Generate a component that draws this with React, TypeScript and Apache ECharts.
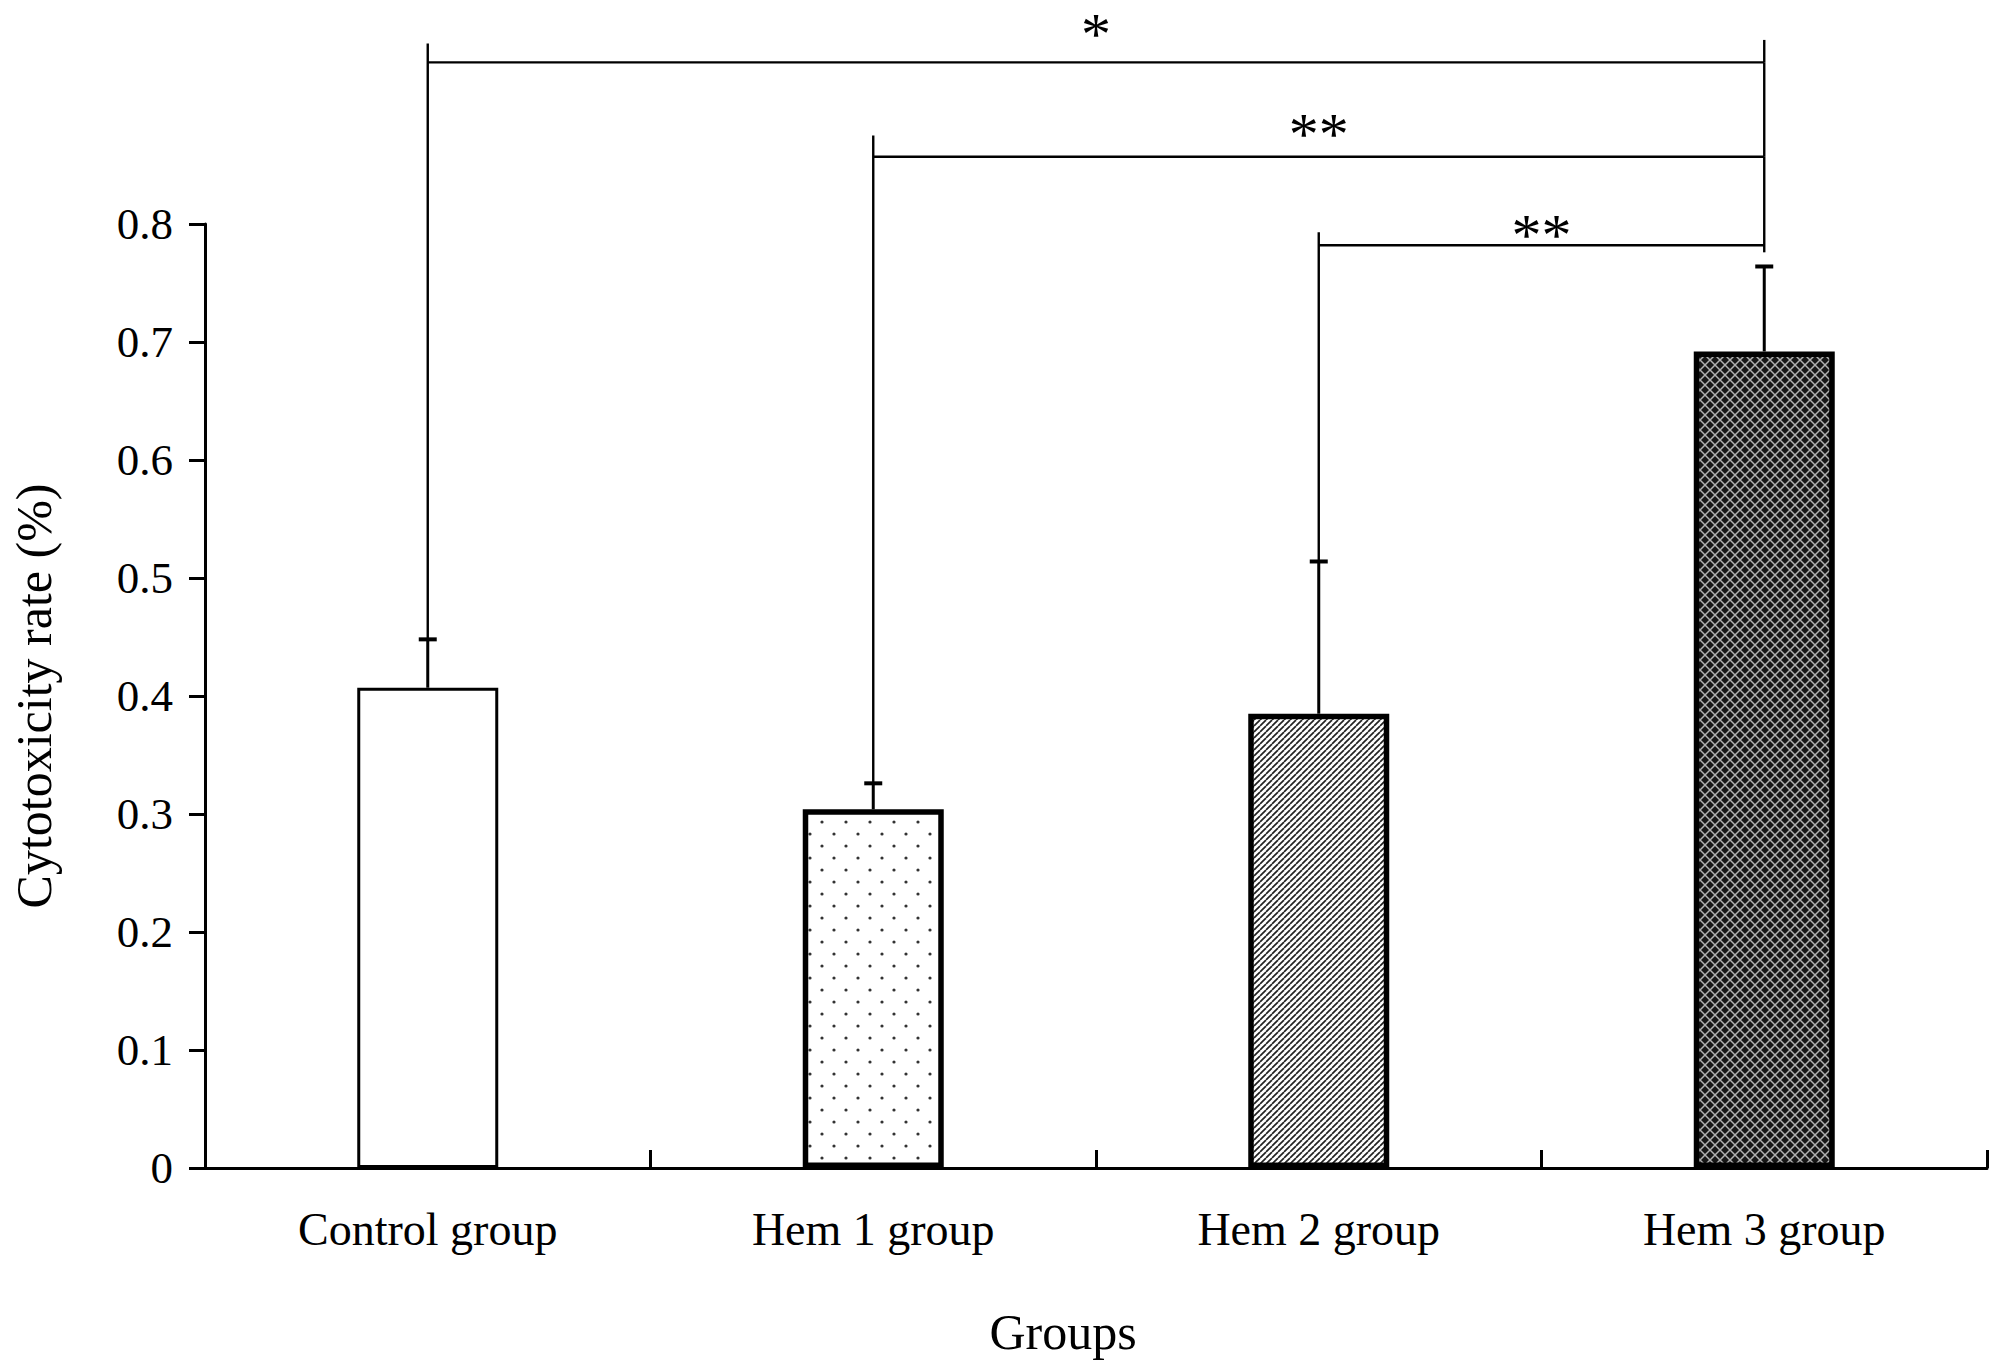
import React, { useEffect, useRef } from "react";
import * as echarts from "echarts";

// ---------- data ----------
const categories = ["Control group", "Hem 1 group", "Hem 2 group", "Hem 3 group"];
const rates = [0.407, 0.304, 0.385, 0.692];
const errorTops = [0.448, 0.326, 0.514, 0.764];
const yMin = 0;
const yMax = 0.8;
const yStep = 0.1;

// significance brackets (category indices and heights in data units)
const bracketFrom = [0, 1, 2];
const bracketTo = [3, 3, 3];
const bracketLevels = [0.937, 0.857, 0.782];
const bracketLeftTops = [0.953, 0.875, 0.793];
const bracketRightTops = [0.956, 0.937, 0.857];
const bracketRightBottoms = [0.937, 0.857, 0.776];
const bracketMarks = ["*", "**", "**"];
const bracketMarkLevels = [0.961, 0.876, 0.791];

const FONT = "'Liberation Serif', 'Times New Roman', serif";

type Kind = "none" | "dots" | "hatch" | "cross";
const barKinds: Kind[] = ["none", "dots", "hatch", "cross"];
const barBorderWidths = [3, 5.5, 5.5, 5.5];

function makePattern(kind: Kind): any {
  if (kind === "none") return "#ffffff";
  const c = document.createElement("canvas");
  let w = 10;
  let h = 10;
  if (kind === "dots") {
    w = 24;
    h = 24;
  } else if (kind === "hatch") {
    w = 6;
    h = 6;
  } else {
    w = 10;
    h = 10;
  }
  c.width = w;
  c.height = h;
  const ctx = c.getContext("2d")!;
  if (kind === "dots") {
    ctx.fillStyle = "#ffffff";
    ctx.fillRect(0, 0, w, h);
    ctx.fillStyle = "#333333";
    [[6, 6], [18, 18]].forEach(([x, y]) => {
      ctx.beginPath();
      ctx.arc(x, y, 1.6, 0, Math.PI * 2);
      ctx.fill();
    });
  } else if (kind === "hatch") {
    ctx.fillStyle = "#ffffff";
    ctx.fillRect(0, 0, w, h);
    ctx.strokeStyle = "#222222";
    ctx.lineWidth = 1.7;
    for (const off of [-w, 0, w]) {
      ctx.beginPath();
      ctx.moveTo(off, h);
      ctx.lineTo(off + w, 0);
      ctx.stroke();
    }
  } else {
    ctx.fillStyle = "#161616";
    ctx.fillRect(0, 0, w, h);
    ctx.strokeStyle = "#b0b0b0";
    ctx.lineWidth = 1.5;
    for (const off of [-w, 0, w]) {
      ctx.beginPath();
      ctx.moveTo(off, h);
      ctx.lineTo(off + w, 0);
      ctx.stroke();
      ctx.beginPath();
      ctx.moveTo(off, 0);
      ctx.lineTo(off + w, h);
      ctx.stroke();
    }
  }
  return { image: c, repeat: "repeat", imageWidth: w, imageHeight: h };
}

export default function App() {
  const ref = useRef<HTMLDivElement>(null);

  useEffect(() => {
    document.body.style.margin = "0";
    if (!ref.current) return;
    const chart = echarts.init(ref.current, undefined, { renderer: "svg" });

    const barData = rates.map((v, i) => ({
      value: v,
      itemStyle: {
        color: makePattern(barKinds[i]),
        borderColor: "#000",
        borderWidth: barBorderWidths[i],
      },
    }));

    const errData = rates.map((v, i) => [i, errorTops[i], v]);
    const bracketData = bracketFrom.map((f, i) => [
      f,
      bracketTo[i],
      bracketLevels[i],
      bracketLeftTops[i],
      bracketRightTops[i],
      bracketRightBottoms[i],
      bracketMarkLevels[i],
    ]);

    const option: any = {
      animation: false,
      backgroundColor: "#ffffff",
      grid: { left: 205, right: 21, top: 224, bottom: 203, containLabel: false },
      xAxis: {
        type: "category",
        data: categories,
        name: "Groups",
        nameLocation: "middle",
        nameGap: 139,
        nameTextStyle: {
          fontFamily: FONT,
          fontSize: 50,
          color: "#000",
          padding: [0, 66, 0, 0],
        },
        axisLine: { show: true, lineStyle: { color: "#000", width: 3 } },
        axisTick: { show: true, inside: true, length: 18, lineStyle: { color: "#000", width: 3 } },
        axisLabel: { fontFamily: FONT, fontSize: 46, color: "#000", margin: 38 },
        splitLine: { show: false },
      },
      yAxis: {
        type: "value",
        min: yMin,
        max: yMax,
        interval: yStep,
        name: "Cytotoxicity rate (%)",
        nameLocation: "middle",
        nameGap: 146,
        nameTextStyle: { fontFamily: FONT, fontSize: 50, color: "#000" },
        axisLine: { show: true, lineStyle: { color: "#000", width: 3 } },
        axisTick: { show: true, inside: false, length: 16, lineStyle: { color: "#000", width: 3 } },
        axisLabel: { fontFamily: FONT, fontSize: 45, color: "#000", margin: 32 },
        splitLine: { show: false },
      },
      series: [
        {
          type: "bar",
          data: barData,
          barWidth: 141,
          z: 2,
        },
        {
          type: "custom",
          z: 3,
          clip: false,
          encode: { x: 0, y: [1, 2] },
          data: errData,
          renderItem: (params: any, api: any) => {
            const top = api.coord([api.value(0), api.value(1)]);
            const base = api.coord([api.value(0), api.value(2)]);
            const cap = 9;
            return {
              type: "group",
              children: [
                {
                  type: "line",
                  shape: { x1: top[0], y1: top[1], x2: base[0], y2: base[1] },
                  style: { stroke: "#000", lineWidth: 3 },
                },
                {
                  type: "line",
                  shape: { x1: top[0] - cap, y1: top[1], x2: top[0] + cap, y2: top[1] },
                  style: { stroke: "#000", lineWidth: 4 },
                },
              ],
            };
          },
        },
        {
          type: "custom",
          z: 4,
          clip: false,
          encode: { x: [0, 1], y: [2, 3] },
          data: bracketData,
          renderItem: (params: any, api: any) => {
            const from = api.value(0);
            const to = api.value(1);
            const level = api.value(2);
            const leftTop = api.value(3);
            const rightTop = api.value(4);
            const rightBottom = api.value(5);
            const markLevel = api.value(6);
            const idx = params.dataIndex;
            const leftBottom = errorTops[from];
            const pL = api.coord([from, level]);
            const pR = api.coord([to, level]);
            const pLT = api.coord([from, leftTop]);
            const pLB = api.coord([from, leftBottom]);
            const pRT = api.coord([to, rightTop]);
            const pRB = api.coord([to, rightBottom]);
            const pM = api.coord([(from + to) / 2, markLevel]);
            const midX = (pL[0] + pR[0]) / 2;
            const stroke = { stroke: "#000", lineWidth: 2.4 };
            return {
              type: "group",
              children: [
                { type: "line", shape: { x1: pL[0], y1: pL[1], x2: pR[0], y2: pR[1] }, style: stroke },
                { type: "line", shape: { x1: pLT[0], y1: pLT[1], x2: pLB[0], y2: pLB[1] }, style: stroke },
                { type: "line", shape: { x1: pRT[0], y1: pRT[1], x2: pRB[0], y2: pRB[1] }, style: stroke },
                {
                  type: "text",
                  x: midX,
                  y: pM[1],
                  style: {
                    text: bracketMarks[idx],
                    fontFamily: FONT,
                    fontSize: 60,
                    fill: "#000",
                    align: "center",
                    verticalAlign: "middle",
                  },
                },
              ],
            };
          },
        },
      ],
    };

    chart.setOption(option);
    return () => chart.dispose();
  }, []);

  return <div ref={ref} style={{ width: 2008, height: 1371 }} />;
}
